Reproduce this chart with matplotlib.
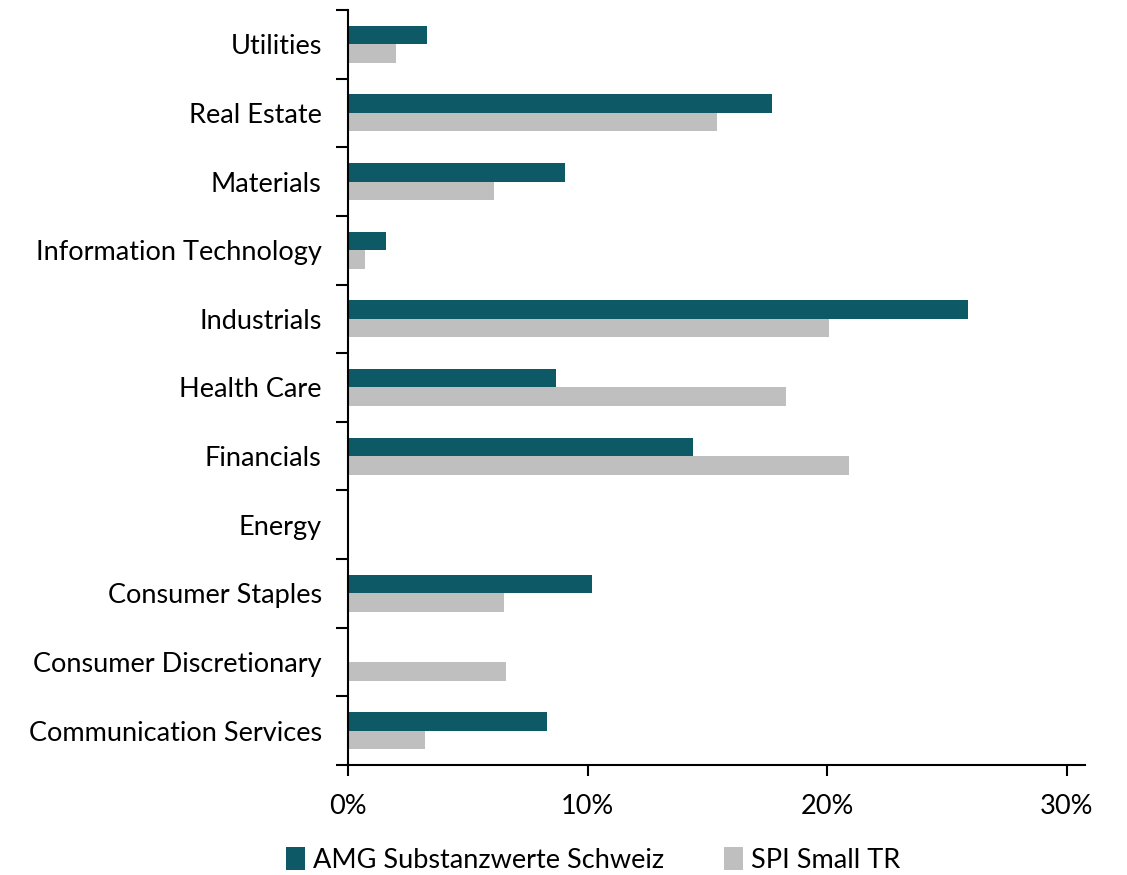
import numpy as np
import matplotlib.pyplot as plt
from matplotlib.ticker import FixedLocator, FuncFormatter

plt.rcParams['font.family'] = ['Lato', 'DejaVu Sans']

# Daten (Sektorgewichte in %)
sectors = ["Communication Services", "Consumer Discretionary", "Consumer Staples",
           "Energy", "Financials", "Health Care", "Industrials",
           "Information Technology", "Materials", "Real Estate", "Utilities"]
amg = [8.3, 0.0, 10.2, 0.0, 14.4, 8.7, 25.9, 1.6, 9.05, 17.7, 3.3]
spi = [3.2, 6.6, 6.5, 0.0, 20.9, 18.3, 20.1, 0.7, 6.1, 15.4, 2.0]

TEAL = '#0d5a66'
GREY = '#bfbfbf'
FS = 19.5

fig = plt.figure(figsize=(11.27, 8.75), dpi=100)
ax = fig.add_axes([0.3088, 0.1257, 0.9627 - 0.3088, 0.9886 - 0.1257])

y = np.arange(len(sectors))
h = 0.27
ax.barh(y + h / 2, amg, height=h, color=TEAL, label="AMG Substanzwerte Schweiz")
ax.barh(y - h / 2, spi, height=h, color=GREY, label="SPI Small TR")

ax.set_ylim(-0.5, len(sectors) - 0.5)
ax.set_xlim(0, 30.77)

ax.set_yticks(y)
ax.set_yticklabels(sectors, fontsize=FS)
ax.yaxis.set_minor_locator(FixedLocator(np.arange(-0.5, len(sectors), 1.0)))
ax.tick_params(axis='y', which='major', length=0, pad=19)
ax.tick_params(axis='y', which='minor', length=9, width=1.5)

ax.set_xticks([0, 10, 20, 30])
ax.xaxis.set_major_formatter(FuncFormatter(lambda v, p: f"{v:.0f}%"))
ax.tick_params(axis='x', length=8, width=1.5, labelsize=FS, pad=13)

for s in ['top', 'right']:
    ax.spines[s].set_visible(False)
for s in ['left', 'bottom']:
    ax.spines[s].set_linewidth(1.5)

fig.legend(loc='center', bbox_to_anchor=(593 / 1127, 1 - 860 / 875), ncol=2,
           frameon=False, fontsize=FS, handlelength=0.7, handleheight=0.9,
           handletextpad=0.3, columnspacing=2.2)

fig.savefig('out.png', dpi=100)
